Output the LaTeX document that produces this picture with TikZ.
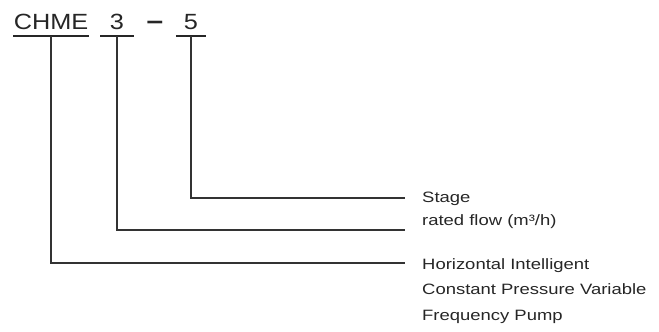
\documentclass[tikz,border=0pt]{standalone}
\usepackage{fontspec}
\newfontfamily\codefont[FakeStretch=1.15]{Liberation Sans}
\newfontfamily\lblfont[FakeStretch=1.23]{Liberation Sans}
\begin{document}
\begin{tikzpicture}[x=1pt,y=-1pt,
  code/.style={font=\codefont\fontsize{22}{26}\selectfont,inner xsep=0pt,inner ysep=6pt,anchor=south,text=black!85},
  uline/.style={line width=1.8pt,black!85},
  lead/.style={line width=1.1pt,black!80},
  lbl/.style={font=\lblfont\fontsize{15}{18}\selectfont,inner sep=0pt,anchor=base west,text=black!85}]
\useasboundingbox (0,0) rectangle (659,332);
% model code
\node[code,minimum width=75pt] (model) at (51,36) {CHME};
\node[code,minimum width=33pt] (flow) at (117,36) {3};
\node[code,anchor=base,font=\codefont\bfseries\fontsize{26}{30}\selectfont] (sep) at (155,30) {–};
\node[code,minimum width=30pt] (stage) at (191,36) {5};
\foreach \n in {model,flow,stage} \draw[uline] (\n.south west) -- (\n.south east);
% ends of the leaders
\coordinate (e1) at (405,198);
\coordinate (e2) at (405,230);
\coordinate (e3) at (405,263);
\draw[lead] (stage.south) |- (e1);
\draw[lead] (flow.south) |- (e2);
\draw[lead] (model.south) |- (e3);
% meanings
\node[lbl] (stagetxt) at (422,202) {Stage};
\node[lbl] (flowtxt) at (422,225) {rated flow (m³/h)};
\node[lbl] (pump1) at (422,269) {Horizontal Intelligent};
\node[lbl] (pump2) at (422,294) {Constant Pressure Variable};
\node[lbl] (pump3) at (422,320) {Frequency Pump};
\end{tikzpicture}
\end{document}
